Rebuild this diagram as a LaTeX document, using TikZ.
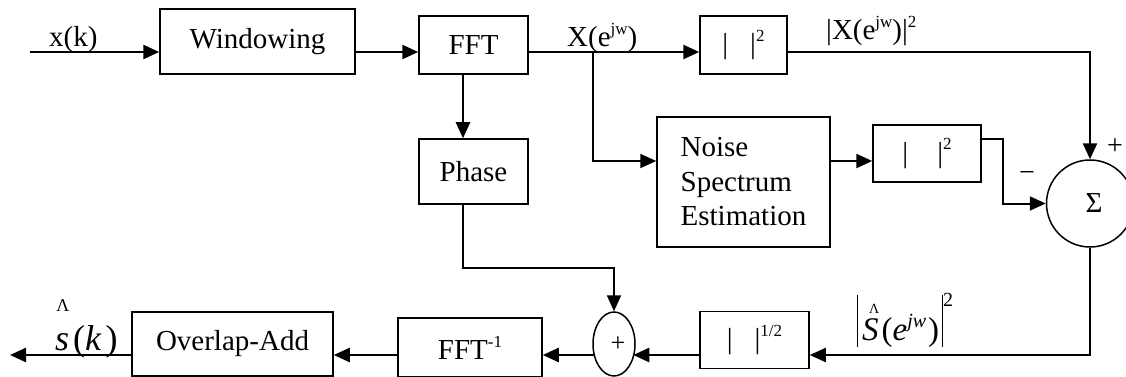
\documentclass[tikz,border=0pt]{standalone}
\usepackage{fontspec}
\setmainfont{Liberation Serif}
\usetikzlibrary{arrows.meta,shapes.geometric,calc}
\newcommand\sux[1]{\raisebox{0.42em}{\fontsize{17}{17}\selectfont #1}}
\begin{document}
\begin{tikzpicture}[x=1pt,y=-1pt,
  blk/.style={draw, line width=1.5pt, inner sep=0pt, font=\fontsize{29}{34.5}\selectfont},
  lbl/.style={inner sep=0pt, font=\fontsize{29}{34}\selectfont},
  arr/.style={line width=2.5pt, -{Triangle[length=16pt,width=14pt]}},
  thinarr/.style={line width=2pt, -{Triangle[length=16pt,width=14pt]}}]
\useasboundingbox (0,0) rectangle (1126,377);
% blocks
\node[blk, minimum width=195pt, minimum height=65pt] (win) at (257.5,41.5) {Windowing\hspace{18pt}};
\node[blk, minimum width=109pt, minimum height=58pt] (fft) at (473.5,45) {FFT\hspace{22pt}};
\node[blk, minimum width=109pt, minimum height=65pt] (phase) at (473.5,171.5) {Phase};
\node[blk, minimum width=87pt, minimum height=58pt] (mag1) at (743.5,45) {\raisebox{-6pt}{|\hspace{22pt}|\sux{2}}\hspace{7pt}};
\node[blk, minimum width=173pt, minimum height=130pt, align=left] (noise) at (743.5,182) {Noise\\Spectrum\\Estimation\hspace{8pt}};
\node[blk, minimum width=108pt, minimum height=57pt] (mag2) at (927,153.5) {|\hspace{29pt}|\sux{2}\hspace{21pt}};
\node[blk, circle, minimum size=87pt] (sum) at (1090,203.5) {\raisebox{-4pt}{\hspace{8pt}Σ}};
\node[blk, minimum width=109pt, minimum height=57pt] (sqrt) at (754.5,340) {|\hspace{22pt}|\sux{1/2}\hspace{16pt}};
\node[blk, ellipse, minimum width=42pt, minimum height=64pt, font=\fontsize{26}{26}\selectfont] (plus) at (614,344) {\hspace{8pt}+};
\node[blk, minimum width=144pt, minimum height=59pt] (ifft) at (470,347.5) {FFT\sux{-1}\hspace{42pt}};
\node[blk, minimum width=201pt, minimum height=64pt] (ola) at (232.5,344) {\raisebox{2pt}{Overlap-Add}\hspace{10pt}};
% labels
\node[lbl, anchor=base west] (lx) at (49,47) {x(k)};
\node[lbl, anchor=base west] (lX) at (567,47) {X(e\sux{jw})};
\node[lbl, anchor=base west] (lX2) at (826,40) {|X(e\sux{jw})|\sux{2}};
\node[lbl, font=\fontsize{28}{28}\selectfont] (lplus) at (1115,147) {+};
\node[lbl, font=\fontsize{28}{28}\selectfont] (lminus) at (1027,177) {−};
\node[lbl, anchor=base west, font=\fontsize{33}{33}\selectfont] (lS) at (857,340) {\rule[-7pt]{1pt}{52pt}\hspace{4pt}\makebox[0pt][l]{\hspace{7pt}\raisebox{27pt}{\fontsize{14}{14}\selectfont Λ}}\textit{S}\hspace{3pt}(\textit{e}\raisebox{13pt}{\fontsize{20}{20}\selectfont\textit{jw}}\hspace{2pt})\hspace{3pt}\rule[-7pt]{1pt}{52pt}\raisebox{34pt}{\fontsize{20}{20}\selectfont 2}};
\node[lbl, anchor=base west, font=\fontsize{36}{36}\selectfont] (ls) at (55,350) {\textit{s}\hspace{4pt}(\textit{k}\hspace{4pt})};
\node[lbl, font=\fontsize{18}{18}\selectfont] (lhat) at (63,306) {Λ};
% helper coordinates
\coordinate (in) at (30,52);
\coordinate (out) at (10,355);
\coordinate (br) at (593,52);
\coordinate (yN) at (0,161);
\coordinate (yM) at (0,139);
\coordinate (yP) at (0,268);
\coordinate (xP) at (463,0);
\coordinate (yB) at (0,355);
% connectors
\draw[arr] (in) -- (win.west |- in);
\draw[arr] (win.east |- in) -- (fft.west |- in);
\draw[arr] (fft.east |- in) -- (mag1.west |- in);
\draw[thinarr] (br) |- (noise.west |- yN);
\draw[arr] (noise.east |- yN) -- (mag2.west |- yN);
\draw[arr] (mag1.east |- in) -| (sum.north);
\draw[thinarr] (mag2.east |- yM) -- ++(21,0) |- (sum.west);
\draw[arr] (xP |- fft.south) -- (xP |- phase.north);
\draw[thinarr] (xP |- phase.south) |- (plus.north |- yP) -- (plus.north);
\draw[thinarr] (sum.south) |- (sqrt.east |- yB);
\draw[arr] (sqrt.west |- yB) -- ($(plus.east |- yB)+(-2.5,0)$);
\draw[arr] ($(plus.west |- yB)+(2.5,0)$) -- (ifft.east |- yB);
\draw[arr] (ifft.west |- yB) -- (ola.east |- yB);
\draw[arr] (ola.west |- yB) -- (out);
\end{tikzpicture}
\end{document}
